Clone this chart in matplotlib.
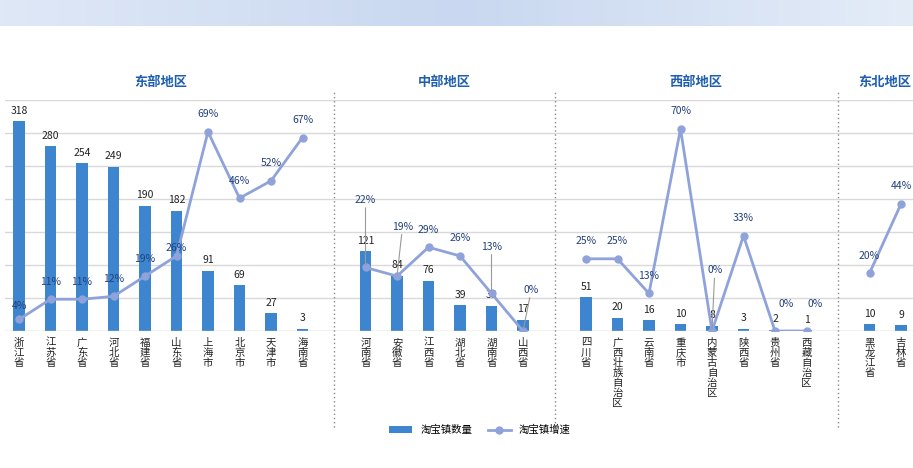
import numpy as np
import matplotlib.pyplot as plt
from matplotlib.colors import LinearSegmentedColormap

plt.rcParams['font.family'] = ['Noto Sans CJK SC', 'DejaVu Sans']

regions = ['东部地区', '中部地区', '西部地区', '东北地区']
provinces = [
    ['浙江省', '江苏省', '广东省', '河北省', '福建省', '山东省', '上海市', '北京市', '天津市', '海南省'],
    ['河南省', '安徽省', '江西省', '湖北省', '湖南省', '山西省'],
    ['四川省', '广西壮族自治区', '云南省', '重庆市', '内蒙古自治区', '陕西省', '贵州省', '西藏自治区'],
    ['黑龙江省', '吉林省'],
]
counts = [
    [318, 280, 254, 249, 190, 182, 91, 69, 27, 3],
    [121, 84, 76, 39, 38, 17],
    [51, 20, 16, 10, 8, 3, 2, 1],
    [10, 9],
]
growth = [
    [4, 11, 11, 12, 19, 26, 69, 46, 52, 67],
    [22, 19, 29, 26, 13, 0],
    [25, 25, 13, 70, 0, 33, 0, 0],
    [20, 44],
]

# label offsets (points) for crowded percentage labels, leader line if True
pct_offsets = {
    '河南省': (0, 45, True), '安徽省': (4, 32, True), '湖南省': (0, 30, True),
    '山西省': (6, 26, True), '内蒙古自治区': (2, 40, True),
    '贵州省': (8, 16, False), '西藏自治区': (6, 16, False),
    '浙江省': (0, 6, False), '山东省': (0, 2, False),
}

bar_color = '#3D85CF'
line_color = '#8FA3DA'

W, H = 913, 468
fig = plt.figure(figsize=(W / 100, H / 100), dpi=100)

# top banner strip
band = fig.add_axes([0, 1 - 26 / H, 1, 26 / H])
grad = np.linspace(0, 1, 256).reshape(1, -1)
band.imshow(grad, aspect='auto', cmap=LinearSegmentedColormap.from_list(
    'b', ['#dfe8f7', '#c9d8f0', '#e4ecf8']), extent=[0, 1, 0, 1])
band.axis('off')

ax_bottom, ax_top = 331, 100
ax = fig.add_axes([5 / W, 1 - ax_bottom / H, 908 / W, (ax_bottom - ax_top) / H])
ax2 = ax.twinx()
slot = 31.5
x0 = 19
ax.set_xlim((5 - x0) / slot, (913 - x0) / slot)
ax.set_ylim(0, 350)
ax.set_yticks(np.arange(0, 351, 50))
ax.grid(axis='y', color='#d9d9d9', linewidth=1)
ax.set_axisbelow(True)
ax.tick_params(left=False, right=False, bottom=False, labelleft=False, labelbottom=False)
for s in ax.spines.values():
    s.set_visible(False)
ax.axhline(0, color='#d9d9d9', linewidth=1)
ax2.set_ylim(0, 80)
ax2.axis('off')

start = 0
bounds = []
for reg, provs, cnt, gr in zip(regions, provinces, counts, growth):
    xs = np.arange(start, start + len(provs))
    ax.bar(xs, cnt, width=0.38, color=bar_color)
    for x, c in zip(xs, cnt):
        ax.annotate(str(c), (x, c), xytext=(0, 4), textcoords='offset points',
                    ha='center', va='bottom', fontsize=7.5, color='#222222')
    ax2.plot(xs, gr, color=line_color, linewidth=2, marker='o', markersize=5)
    for x, g, p in zip(xs, gr, provs):
        dx, dy, lead = pct_offsets.get(p, (0, 9, False))
        ax2.annotate(f'{g}%', (x, g), xytext=(dx, dy), textcoords='offset points',
                     ha='center', va='bottom', fontsize=7.5, color='#23407a',
                     arrowprops=dict(arrowstyle='-', color='#999999', lw=0.8,
                                     shrinkA=0, shrinkB=2) if lead else None)
    for x, p in zip(xs, provs):
        ax.annotate('\n'.join(p), (x, 0), xytext=(0, -5), textcoords='offset points',
                    ha='center', va='top', fontsize=7.5, color='#222222', linespacing=1.0,
                    annotation_clip=False)
    ax.annotate(reg, ((xs[0] + xs[-1]) / 2, 350), xytext=(0, 8), textcoords='offset points',
                ha='center', va='bottom', fontsize=9.5, fontweight='bold', color='#1F5FB0',
                annotation_clip=False)
    start += len(provs) + 1
    bounds.append(start - 1)

for b in bounds[:-1]:
    ax.plot([b, b], [-145, 365], color='#888888', linestyle=(0, (1, 2)),
            linewidth=1, clip_on=False)

# legend
bar_h = ax.bar([0], [0], color=bar_color, label='淘宝镇数量')
line_h, = ax.plot([], [], color=line_color, linewidth=2, marker='o', markersize=5, label='淘宝镇增速')
fig.legend(handles=[bar_h, line_h], loc='center', bbox_to_anchor=(480 / W, 1 - 430 / H),
           ncol=2, frameon=False, fontsize=7.5, handlelength=2.2, columnspacing=1.5)

fig.savefig('out.png', dpi=100)
